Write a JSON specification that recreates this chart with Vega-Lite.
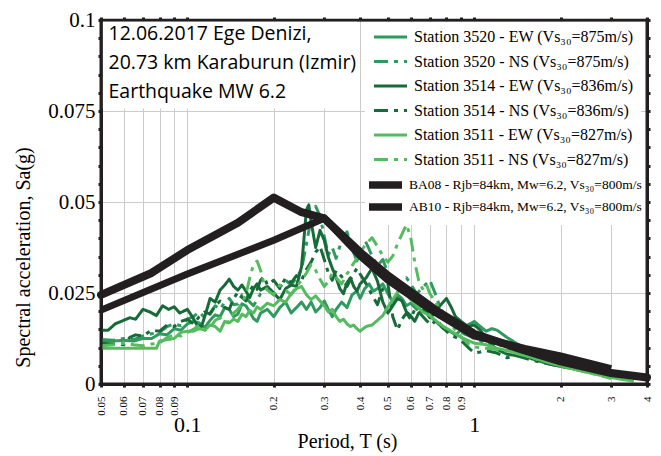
{
  "$schema": "https://vega.github.io/schema/vega-lite/v6.json",
  "width": 546,
  "height": 364,
  "autosize": {"type": "none"},
  "padding": {"left": 101, "top": 20, "right": 14, "bottom": 72},
  "background": "white",
  "datasets": {
    "stations": [
      {"s":"3520 EW","T":0.05,"Sa":0.0118},{"s":"3520 EW","T":0.055,"Sa":0.0118},{"s":"3520 EW","T":0.06,"Sa":0.012},{"s":"3520 EW","T":0.065,"Sa":0.0118},{"s":"3520 EW","T":0.07,"Sa":0.0125},{"s":"3520 EW","T":0.075,"Sa":0.0125},{"s":"3520 EW","T":0.08,"Sa":0.0138},{"s":"3520 EW","T":0.085,"Sa":0.0135},{"s":"3520 EW","T":0.09,"Sa":0.0152},{"s":"3520 EW","T":0.095,"Sa":0.0148},{"s":"3520 EW","T":0.1,"Sa":0.0165},{"s":"3520 EW","T":0.105,"Sa":0.0172},{"s":"3520 EW","T":0.11,"Sa":0.0168},{"s":"3520 EW","T":0.115,"Sa":0.0155},{"s":"3520 EW","T":0.12,"Sa":0.0175},{"s":"3520 EW","T":0.125,"Sa":0.019},{"s":"3520 EW","T":0.13,"Sa":0.0185},{"s":"3520 EW","T":0.135,"Sa":0.021},{"s":"3520 EW","T":0.14,"Sa":0.0205},{"s":"3520 EW","T":0.145,"Sa":0.0185},{"s":"3520 EW","T":0.15,"Sa":0.0192},{"s":"3520 EW","T":0.155,"Sa":0.022},{"s":"3520 EW","T":0.16,"Sa":0.0215},{"s":"3520 EW","T":0.165,"Sa":0.0198},{"s":"3520 EW","T":0.17,"Sa":0.018},{"s":"3520 EW","T":0.175,"Sa":0.0172},{"s":"3520 EW","T":0.18,"Sa":0.0195},{"s":"3520 EW","T":0.19,"Sa":0.0205},{"s":"3520 EW","T":0.2,"Sa":0.0185},{"s":"3520 EW","T":0.21,"Sa":0.021},{"s":"3520 EW","T":0.22,"Sa":0.0225},{"s":"3520 EW","T":0.23,"Sa":0.0195},{"s":"3520 EW","T":0.24,"Sa":0.021},{"s":"3520 EW","T":0.25,"Sa":0.0225},{"s":"3520 EW","T":0.26,"Sa":0.0205},{"s":"3520 EW","T":0.27,"Sa":0.0225},{"s":"3520 EW","T":0.28,"Sa":0.0198},{"s":"3520 EW","T":0.29,"Sa":0.021},{"s":"3520 EW","T":0.3,"Sa":0.0228},{"s":"3520 EW","T":0.31,"Sa":0.0205},{"s":"3520 EW","T":0.32,"Sa":0.0185},{"s":"3520 EW","T":0.33,"Sa":0.0205},{"s":"3520 EW","T":0.345,"Sa":0.0225},{"s":"3520 EW","T":0.36,"Sa":0.021},{"s":"3520 EW","T":0.375,"Sa":0.0245},{"s":"3520 EW","T":0.39,"Sa":0.0255},{"s":"3520 EW","T":0.4,"Sa":0.0235},{"s":"3520 EW","T":0.415,"Sa":0.0262},{"s":"3520 EW","T":0.43,"Sa":0.0275},{"s":"3520 EW","T":0.445,"Sa":0.0255},{"s":"3520 EW","T":0.46,"Sa":0.0262},{"s":"3520 EW","T":0.48,"Sa":0.0275},{"s":"3520 EW","T":0.5,"Sa":0.0248},{"s":"3520 EW","T":0.52,"Sa":0.0225},{"s":"3520 EW","T":0.54,"Sa":0.0245},{"s":"3520 EW","T":0.56,"Sa":0.0235},{"s":"3520 EW","T":0.58,"Sa":0.0215},{"s":"3520 EW","T":0.6,"Sa":0.0222},{"s":"3520 EW","T":0.63,"Sa":0.0205},{"s":"3520 EW","T":0.66,"Sa":0.0215},{"s":"3520 EW","T":0.69,"Sa":0.0192},{"s":"3520 EW","T":0.72,"Sa":0.0178},{"s":"3520 EW","T":0.75,"Sa":0.0165},{"s":"3520 EW","T":0.78,"Sa":0.0152},{"s":"3520 EW","T":0.82,"Sa":0.0145},{"s":"3520 EW","T":0.86,"Sa":0.0135},{"s":"3520 EW","T":0.9,"Sa":0.0148},{"s":"3520 EW","T":0.95,"Sa":0.0162},{"s":"3520 EW","T":1.0,"Sa":0.0172},{"s":"3520 EW","T":1.05,"Sa":0.0158},{"s":"3520 EW","T":1.1,"Sa":0.0145},{"s":"3520 EW","T":1.15,"Sa":0.0152},{"s":"3520 EW","T":1.2,"Sa":0.0148},{"s":"3520 EW","T":1.3,"Sa":0.0128},{"s":"3520 EW","T":1.4,"Sa":0.0112},{"s":"3520 EW","T":1.5,"Sa":0.0098},{"s":"3520 EW","T":1.65,"Sa":0.0088},{"s":"3520 EW","T":1.8,"Sa":0.0075},{"s":"3520 EW","T":2.0,"Sa":0.0062},{"s":"3520 EW","T":2.2,"Sa":0.0052},{"s":"3520 EW","T":2.5,"Sa":0.004},{"s":"3520 EW","T":2.8,"Sa":0.0032},{"s":"3520 EW","T":3.0,"Sa":0.0028},{"s":"3520 EW","T":3.3,"Sa":0.0022},{"s":"3520 EW","T":3.6,"Sa":0.0018},

      {"s":"3520 NS","T":0.05,"Sa":0.0122},{"s":"3520 NS","T":0.055,"Sa":0.012},{"s":"3520 NS","T":0.06,"Sa":0.0125},{"s":"3520 NS","T":0.065,"Sa":0.0122},{"s":"3520 NS","T":0.07,"Sa":0.0132},{"s":"3520 NS","T":0.075,"Sa":0.0138},{"s":"3520 NS","T":0.08,"Sa":0.0142},{"s":"3520 NS","T":0.085,"Sa":0.0158},{"s":"3520 NS","T":0.09,"Sa":0.0165},{"s":"3520 NS","T":0.095,"Sa":0.016},{"s":"3520 NS","T":0.1,"Sa":0.0178},{"s":"3520 NS","T":0.105,"Sa":0.0185},{"s":"3520 NS","T":0.11,"Sa":0.0198},{"s":"3520 NS","T":0.115,"Sa":0.0182},{"s":"3520 NS","T":0.12,"Sa":0.0195},{"s":"3520 NS","T":0.125,"Sa":0.0215},{"s":"3520 NS","T":0.13,"Sa":0.0205},{"s":"3520 NS","T":0.135,"Sa":0.0225},{"s":"3520 NS","T":0.14,"Sa":0.0235},{"s":"3520 NS","T":0.145,"Sa":0.0218},{"s":"3520 NS","T":0.15,"Sa":0.022},{"s":"3520 NS","T":0.155,"Sa":0.0245},{"s":"3520 NS","T":0.16,"Sa":0.0238},{"s":"3520 NS","T":0.165,"Sa":0.0225},{"s":"3520 NS","T":0.17,"Sa":0.0215},{"s":"3520 NS","T":0.18,"Sa":0.0248},{"s":"3520 NS","T":0.19,"Sa":0.0262},{"s":"3520 NS","T":0.2,"Sa":0.0245},{"s":"3520 NS","T":0.21,"Sa":0.0265},{"s":"3520 NS","T":0.22,"Sa":0.0285},{"s":"3520 NS","T":0.23,"Sa":0.0272},{"s":"3520 NS","T":0.24,"Sa":0.0292},{"s":"3520 NS","T":0.25,"Sa":0.0315},{"s":"3520 NS","T":0.26,"Sa":0.0385},{"s":"3520 NS","T":0.27,"Sa":0.0455},{"s":"3520 NS","T":0.28,"Sa":0.0488},{"s":"3520 NS","T":0.29,"Sa":0.0462},{"s":"3520 NS","T":0.3,"Sa":0.0405},{"s":"3520 NS","T":0.31,"Sa":0.0355},{"s":"3520 NS","T":0.32,"Sa":0.0375},{"s":"3520 NS","T":0.33,"Sa":0.0345},{"s":"3520 NS","T":0.345,"Sa":0.0395},{"s":"3520 NS","T":0.36,"Sa":0.0418},{"s":"3520 NS","T":0.375,"Sa":0.0372},{"s":"3520 NS","T":0.39,"Sa":0.0338},{"s":"3520 NS","T":0.4,"Sa":0.0368},{"s":"3520 NS","T":0.42,"Sa":0.0388},{"s":"3520 NS","T":0.44,"Sa":0.0352},{"s":"3520 NS","T":0.46,"Sa":0.0325},{"s":"3520 NS","T":0.48,"Sa":0.0342},{"s":"3520 NS","T":0.5,"Sa":0.0305},{"s":"3520 NS","T":0.52,"Sa":0.0285},{"s":"3520 NS","T":0.55,"Sa":0.0265},{"s":"3520 NS","T":0.58,"Sa":0.0292},{"s":"3520 NS","T":0.6,"Sa":0.0275},{"s":"3520 NS","T":0.63,"Sa":0.0248},{"s":"3520 NS","T":0.66,"Sa":0.0265},{"s":"3520 NS","T":0.7,"Sa":0.0285},{"s":"3520 NS","T":0.73,"Sa":0.025},{"s":"3520 NS","T":0.76,"Sa":0.021},{"s":"3520 NS","T":0.8,"Sa":0.0182},{"s":"3520 NS","T":0.84,"Sa":0.0165},{"s":"3520 NS","T":0.88,"Sa":0.0148},{"s":"3520 NS","T":0.92,"Sa":0.0138},{"s":"3520 NS","T":0.96,"Sa":0.0132},{"s":"3520 NS","T":1.0,"Sa":0.0125},{"s":"3520 NS","T":1.05,"Sa":0.0118},{"s":"3520 NS","T":1.1,"Sa":0.0108},{"s":"3520 NS","T":1.2,"Sa":0.0112},{"s":"3520 NS","T":1.3,"Sa":0.0095},{"s":"3520 NS","T":1.45,"Sa":0.0085},{"s":"3520 NS","T":1.6,"Sa":0.0078},{"s":"3520 NS","T":1.8,"Sa":0.0065},{"s":"3520 NS","T":2.0,"Sa":0.0055},{"s":"3520 NS","T":2.3,"Sa":0.0045},{"s":"3520 NS","T":2.6,"Sa":0.0035},{"s":"3520 NS","T":3.0,"Sa":0.0025},{"s":"3520 NS","T":3.3,"Sa":0.002},

      {"s":"3514 EW","T":0.05,"Sa":0.0148},{"s":"3514 EW","T":0.053,"Sa":0.0148},{"s":"3514 EW","T":0.056,"Sa":0.0165},{"s":"3514 EW","T":0.06,"Sa":0.0175},{"s":"3514 EW","T":0.063,"Sa":0.0182},{"s":"3514 EW","T":0.066,"Sa":0.0178},{"s":"3514 EW","T":0.07,"Sa":0.0205},{"s":"3514 EW","T":0.074,"Sa":0.0198},{"s":"3514 EW","T":0.078,"Sa":0.0188},{"s":"3514 EW","T":0.082,"Sa":0.0215},{"s":"3514 EW","T":0.086,"Sa":0.0205},{"s":"3514 EW","T":0.09,"Sa":0.0212},{"s":"3514 EW","T":0.094,"Sa":0.0195},{"s":"3514 EW","T":0.1,"Sa":0.0205},{"s":"3514 EW","T":0.104,"Sa":0.0185},{"s":"3514 EW","T":0.108,"Sa":0.0162},{"s":"3514 EW","T":0.112,"Sa":0.0158},{"s":"3514 EW","T":0.116,"Sa":0.0195},{"s":"3514 EW","T":0.12,"Sa":0.0235},{"s":"3514 EW","T":0.125,"Sa":0.0225},{"s":"3514 EW","T":0.13,"Sa":0.0258},{"s":"3514 EW","T":0.135,"Sa":0.0272},{"s":"3514 EW","T":0.14,"Sa":0.0288},{"s":"3514 EW","T":0.145,"Sa":0.0268},{"s":"3514 EW","T":0.15,"Sa":0.0258},{"s":"3514 EW","T":0.155,"Sa":0.0272},{"s":"3514 EW","T":0.16,"Sa":0.0255},{"s":"3514 EW","T":0.165,"Sa":0.0238},{"s":"3514 EW","T":0.17,"Sa":0.0262},{"s":"3514 EW","T":0.175,"Sa":0.0275},{"s":"3514 EW","T":0.18,"Sa":0.0258},{"s":"3514 EW","T":0.19,"Sa":0.0268},{"s":"3514 EW","T":0.2,"Sa":0.025},{"s":"3514 EW","T":0.21,"Sa":0.0232},{"s":"3514 EW","T":0.22,"Sa":0.0262},{"s":"3514 EW","T":0.23,"Sa":0.0272},{"s":"3514 EW","T":0.24,"Sa":0.0268},{"s":"3514 EW","T":0.25,"Sa":0.0322},{"s":"3514 EW","T":0.26,"Sa":0.0478},{"s":"3514 EW","T":0.265,"Sa":0.0492},{"s":"3514 EW","T":0.27,"Sa":0.0445},{"s":"3514 EW","T":0.28,"Sa":0.0375},{"s":"3514 EW","T":0.29,"Sa":0.0422},{"s":"3514 EW","T":0.3,"Sa":0.0395},{"s":"3514 EW","T":0.31,"Sa":0.0348},{"s":"3514 EW","T":0.32,"Sa":0.0318},{"s":"3514 EW","T":0.33,"Sa":0.0292},{"s":"3514 EW","T":0.34,"Sa":0.0262},{"s":"3514 EW","T":0.35,"Sa":0.0248},{"s":"3514 EW","T":0.36,"Sa":0.0278},{"s":"3514 EW","T":0.37,"Sa":0.0292},{"s":"3514 EW","T":0.38,"Sa":0.0268},{"s":"3514 EW","T":0.39,"Sa":0.0255},{"s":"3514 EW","T":0.4,"Sa":0.0275},{"s":"3514 EW","T":0.42,"Sa":0.0292},{"s":"3514 EW","T":0.44,"Sa":0.0318},{"s":"3514 EW","T":0.46,"Sa":0.0282},{"s":"3514 EW","T":0.48,"Sa":0.0225},{"s":"3514 EW","T":0.5,"Sa":0.0195},{"s":"3514 EW","T":0.52,"Sa":0.0215},{"s":"3514 EW","T":0.54,"Sa":0.0235},{"s":"3514 EW","T":0.56,"Sa":0.0228},{"s":"3514 EW","T":0.58,"Sa":0.0198},{"s":"3514 EW","T":0.6,"Sa":0.0188},{"s":"3514 EW","T":0.62,"Sa":0.0172},{"s":"3514 EW","T":0.64,"Sa":0.0195},{"s":"3514 EW","T":0.67,"Sa":0.0205},{"s":"3514 EW","T":0.7,"Sa":0.0182},{"s":"3514 EW","T":0.73,"Sa":0.0195},{"s":"3514 EW","T":0.76,"Sa":0.0215},{"s":"3514 EW","T":0.8,"Sa":0.0235},{"s":"3514 EW","T":0.83,"Sa":0.0212},{"s":"3514 EW","T":0.86,"Sa":0.0185},{"s":"3514 EW","T":0.9,"Sa":0.0172},{"s":"3514 EW","T":0.95,"Sa":0.0158},{"s":"3514 EW","T":1.0,"Sa":0.0162},{"s":"3514 EW","T":1.05,"Sa":0.0148},{"s":"3514 EW","T":1.1,"Sa":0.0125},{"s":"3514 EW","T":1.15,"Sa":0.0108},{"s":"3514 EW","T":1.2,"Sa":0.0095},{"s":"3514 EW","T":1.3,"Sa":0.0082},{"s":"3514 EW","T":1.4,"Sa":0.0078},{"s":"3514 EW","T":1.55,"Sa":0.0072},{"s":"3514 EW","T":1.7,"Sa":0.0062},{"s":"3514 EW","T":1.9,"Sa":0.0052},{"s":"3514 EW","T":2.1,"Sa":0.0045},{"s":"3514 EW","T":2.4,"Sa":0.0038},{"s":"3514 EW","T":2.7,"Sa":0.003},{"s":"3514 EW","T":3.0,"Sa":0.0022},{"s":"3514 EW","T":3.3,"Sa":0.0018},

      {"s":"3514 NS","T":0.05,"Sa":0.0112},{"s":"3514 NS","T":0.055,"Sa":0.011},{"s":"3514 NS","T":0.06,"Sa":0.0108},{"s":"3514 NS","T":0.063,"Sa":0.0128},{"s":"3514 NS","T":0.066,"Sa":0.0135},{"s":"3514 NS","T":0.07,"Sa":0.0132},{"s":"3514 NS","T":0.075,"Sa":0.0148},{"s":"3514 NS","T":0.08,"Sa":0.0145},{"s":"3514 NS","T":0.085,"Sa":0.0162},{"s":"3514 NS","T":0.09,"Sa":0.0158},{"s":"3514 NS","T":0.095,"Sa":0.0172},{"s":"3514 NS","T":0.1,"Sa":0.0178},{"s":"3514 NS","T":0.105,"Sa":0.0165},{"s":"3514 NS","T":0.11,"Sa":0.0185},{"s":"3514 NS","T":0.115,"Sa":0.0198},{"s":"3514 NS","T":0.12,"Sa":0.0192},{"s":"3514 NS","T":0.125,"Sa":0.0215},{"s":"3514 NS","T":0.13,"Sa":0.0228},{"s":"3514 NS","T":0.135,"Sa":0.021},{"s":"3514 NS","T":0.14,"Sa":0.0205},{"s":"3514 NS","T":0.145,"Sa":0.0235},{"s":"3514 NS","T":0.15,"Sa":0.0252},{"s":"3514 NS","T":0.155,"Sa":0.0238},{"s":"3514 NS","T":0.16,"Sa":0.0228},{"s":"3514 NS","T":0.165,"Sa":0.0255},{"s":"3514 NS","T":0.17,"Sa":0.0272},{"s":"3514 NS","T":0.175,"Sa":0.026},{"s":"3514 NS","T":0.18,"Sa":0.0285},{"s":"3514 NS","T":0.185,"Sa":0.0295},{"s":"3514 NS","T":0.19,"Sa":0.0272},{"s":"3514 NS","T":0.2,"Sa":0.0285},{"s":"3514 NS","T":0.21,"Sa":0.0262},{"s":"3514 NS","T":0.22,"Sa":0.0292},{"s":"3514 NS","T":0.23,"Sa":0.0278},{"s":"3514 NS","T":0.24,"Sa":0.0298},{"s":"3514 NS","T":0.25,"Sa":0.0285},{"s":"3514 NS","T":0.26,"Sa":0.0315},{"s":"3514 NS","T":0.27,"Sa":0.0335},{"s":"3514 NS","T":0.28,"Sa":0.0362},{"s":"3514 NS","T":0.29,"Sa":0.0378},{"s":"3514 NS","T":0.3,"Sa":0.0342},{"s":"3514 NS","T":0.31,"Sa":0.0305},{"s":"3514 NS","T":0.32,"Sa":0.0285},{"s":"3514 NS","T":0.33,"Sa":0.0312},{"s":"3514 NS","T":0.345,"Sa":0.0295},{"s":"3514 NS","T":0.36,"Sa":0.0268},{"s":"3514 NS","T":0.375,"Sa":0.0295},{"s":"3514 NS","T":0.39,"Sa":0.0318},{"s":"3514 NS","T":0.4,"Sa":0.0302},{"s":"3514 NS","T":0.42,"Sa":0.0275},{"s":"3514 NS","T":0.44,"Sa":0.0245},{"s":"3514 NS","T":0.46,"Sa":0.0218},{"s":"3514 NS","T":0.48,"Sa":0.0262},{"s":"3514 NS","T":0.5,"Sa":0.0275},{"s":"3514 NS","T":0.52,"Sa":0.0185},{"s":"3514 NS","T":0.54,"Sa":0.0148},{"s":"3514 NS","T":0.56,"Sa":0.0178},{"s":"3514 NS","T":0.58,"Sa":0.0195},{"s":"3514 NS","T":0.6,"Sa":0.0178},{"s":"3514 NS","T":0.62,"Sa":0.0205},{"s":"3514 NS","T":0.65,"Sa":0.0192},{"s":"3514 NS","T":0.68,"Sa":0.0175},{"s":"3514 NS","T":0.71,"Sa":0.0162},{"s":"3514 NS","T":0.74,"Sa":0.0178},{"s":"3514 NS","T":0.77,"Sa":0.0158},{"s":"3514 NS","T":0.8,"Sa":0.0145},{"s":"3514 NS","T":0.84,"Sa":0.0132},{"s":"3514 NS","T":0.88,"Sa":0.0125},{"s":"3514 NS","T":0.92,"Sa":0.0112},{"s":"3514 NS","T":0.96,"Sa":0.0098},{"s":"3514 NS","T":1.0,"Sa":0.0085},{"s":"3514 NS","T":1.05,"Sa":0.0088},{"s":"3514 NS","T":1.1,"Sa":0.0092},{"s":"3514 NS","T":1.2,"Sa":0.0085},{"s":"3514 NS","T":1.3,"Sa":0.0072},{"s":"3514 NS","T":1.4,"Sa":0.0078},{"s":"3514 NS","T":1.55,"Sa":0.0068},{"s":"3514 NS","T":1.7,"Sa":0.006},{"s":"3514 NS","T":1.9,"Sa":0.0052},{"s":"3514 NS","T":2.1,"Sa":0.0045},{"s":"3514 NS","T":2.4,"Sa":0.0036},{"s":"3514 NS","T":2.7,"Sa":0.0028},{"s":"3514 NS","T":3.0,"Sa":0.002},

      {"s":"3511 EW","T":0.05,"Sa":0.0098},{"s":"3511 EW","T":0.06,"Sa":0.0098},{"s":"3511 EW","T":0.07,"Sa":0.0098},{"s":"3511 EW","T":0.078,"Sa":0.0098},{"s":"3511 EW","T":0.08,"Sa":0.0118},{"s":"3511 EW","T":0.085,"Sa":0.0122},{"s":"3511 EW","T":0.09,"Sa":0.0125},{"s":"3511 EW","T":0.095,"Sa":0.0142},{"s":"3511 EW","T":0.1,"Sa":0.0145},{"s":"3511 EW","T":0.105,"Sa":0.0145},{"s":"3511 EW","T":0.11,"Sa":0.0152},{"s":"3511 EW","T":0.115,"Sa":0.0148},{"s":"3511 EW","T":0.12,"Sa":0.0162},{"s":"3511 EW","T":0.125,"Sa":0.0158},{"s":"3511 EW","T":0.13,"Sa":0.0145},{"s":"3511 EW","T":0.135,"Sa":0.0172},{"s":"3511 EW","T":0.14,"Sa":0.0168},{"s":"3511 EW","T":0.145,"Sa":0.0178},{"s":"3511 EW","T":0.15,"Sa":0.0172},{"s":"3511 EW","T":0.155,"Sa":0.0192},{"s":"3511 EW","T":0.16,"Sa":0.0185},{"s":"3511 EW","T":0.165,"Sa":0.0202},{"s":"3511 EW","T":0.17,"Sa":0.0195},{"s":"3511 EW","T":0.175,"Sa":0.0212},{"s":"3511 EW","T":0.18,"Sa":0.0205},{"s":"3511 EW","T":0.19,"Sa":0.0222},{"s":"3511 EW","T":0.2,"Sa":0.0215},{"s":"3511 EW","T":0.21,"Sa":0.0232},{"s":"3511 EW","T":0.22,"Sa":0.0225},{"s":"3511 EW","T":0.23,"Sa":0.0248},{"s":"3511 EW","T":0.24,"Sa":0.0262},{"s":"3511 EW","T":0.25,"Sa":0.0268},{"s":"3511 EW","T":0.26,"Sa":0.0245},{"s":"3511 EW","T":0.27,"Sa":0.0232},{"s":"3511 EW","T":0.28,"Sa":0.0242},{"s":"3511 EW","T":0.29,"Sa":0.0228},{"s":"3511 EW","T":0.3,"Sa":0.0215},{"s":"3511 EW","T":0.31,"Sa":0.0198},{"s":"3511 EW","T":0.32,"Sa":0.0205},{"s":"3511 EW","T":0.33,"Sa":0.0185},{"s":"3511 EW","T":0.34,"Sa":0.0172},{"s":"3511 EW","T":0.35,"Sa":0.0178},{"s":"3511 EW","T":0.36,"Sa":0.0165},{"s":"3511 EW","T":0.37,"Sa":0.0158},{"s":"3511 EW","T":0.38,"Sa":0.0162},{"s":"3511 EW","T":0.39,"Sa":0.0152},{"s":"3511 EW","T":0.4,"Sa":0.0145},{"s":"3511 EW","T":0.41,"Sa":0.0152},{"s":"3511 EW","T":0.42,"Sa":0.0158},{"s":"3511 EW","T":0.44,"Sa":0.0162},{"s":"3511 EW","T":0.46,"Sa":0.0175},{"s":"3511 EW","T":0.48,"Sa":0.0188},{"s":"3511 EW","T":0.5,"Sa":0.0212},{"s":"3511 EW","T":0.52,"Sa":0.0232},{"s":"3511 EW","T":0.54,"Sa":0.0252},{"s":"3511 EW","T":0.56,"Sa":0.0268},{"s":"3511 EW","T":0.58,"Sa":0.0248},{"s":"3511 EW","T":0.6,"Sa":0.0232},{"s":"3511 EW","T":0.63,"Sa":0.0215},{"s":"3511 EW","T":0.66,"Sa":0.0198},{"s":"3511 EW","T":0.7,"Sa":0.0188},{"s":"3511 EW","T":0.74,"Sa":0.0172},{"s":"3511 EW","T":0.78,"Sa":0.0158},{"s":"3511 EW","T":0.82,"Sa":0.0148},{"s":"3511 EW","T":0.86,"Sa":0.0138},{"s":"3511 EW","T":0.9,"Sa":0.0128},{"s":"3511 EW","T":0.95,"Sa":0.012},{"s":"3511 EW","T":1.0,"Sa":0.0112},{"s":"3511 EW","T":1.1,"Sa":0.0108},{"s":"3511 EW","T":1.2,"Sa":0.0098},{"s":"3511 EW","T":1.3,"Sa":0.0092},{"s":"3511 EW","T":1.45,"Sa":0.0082},{"s":"3511 EW","T":1.6,"Sa":0.0072},{"s":"3511 EW","T":1.8,"Sa":0.006},{"s":"3511 EW","T":2.0,"Sa":0.005},{"s":"3511 EW","T":2.3,"Sa":0.0038},{"s":"3511 EW","T":2.6,"Sa":0.0028},{"s":"3511 EW","T":3.0,"Sa":0.0018},{"s":"3511 EW","T":3.3,"Sa":0.0012},{"s":"3511 EW","T":3.6,"Sa":0.0008},

      {"s":"3511 NS","T":0.05,"Sa":0.0105},{"s":"3511 NS","T":0.055,"Sa":0.0108},{"s":"3511 NS","T":0.06,"Sa":0.0112},{"s":"3511 NS","T":0.065,"Sa":0.0108},{"s":"3511 NS","T":0.07,"Sa":0.0105},{"s":"3511 NS","T":0.075,"Sa":0.011},{"s":"3511 NS","T":0.08,"Sa":0.0112},{"s":"3511 NS","T":0.085,"Sa":0.0128},{"s":"3511 NS","T":0.09,"Sa":0.0135},{"s":"3511 NS","T":0.095,"Sa":0.0132},{"s":"3511 NS","T":0.1,"Sa":0.0142},{"s":"3511 NS","T":0.105,"Sa":0.015},{"s":"3511 NS","T":0.11,"Sa":0.0162},{"s":"3511 NS","T":0.115,"Sa":0.0148},{"s":"3511 NS","T":0.12,"Sa":0.0155},{"s":"3511 NS","T":0.125,"Sa":0.0175},{"s":"3511 NS","T":0.13,"Sa":0.0182},{"s":"3511 NS","T":0.135,"Sa":0.0168},{"s":"3511 NS","T":0.14,"Sa":0.0172},{"s":"3511 NS","T":0.145,"Sa":0.0195},{"s":"3511 NS","T":0.15,"Sa":0.0205},{"s":"3511 NS","T":0.155,"Sa":0.0222},{"s":"3511 NS","T":0.16,"Sa":0.0245},{"s":"3511 NS","T":0.165,"Sa":0.0292},{"s":"3511 NS","T":0.17,"Sa":0.0328},{"s":"3511 NS","T":0.175,"Sa":0.0338},{"s":"3511 NS","T":0.18,"Sa":0.0312},{"s":"3511 NS","T":0.185,"Sa":0.0275},{"s":"3511 NS","T":0.19,"Sa":0.0258},{"s":"3511 NS","T":0.2,"Sa":0.0245},{"s":"3511 NS","T":0.21,"Sa":0.0272},{"s":"3511 NS","T":0.22,"Sa":0.0258},{"s":"3511 NS","T":0.23,"Sa":0.0245},{"s":"3511 NS","T":0.24,"Sa":0.0268},{"s":"3511 NS","T":0.25,"Sa":0.0285},{"s":"3511 NS","T":0.26,"Sa":0.0305},{"s":"3511 NS","T":0.27,"Sa":0.0328},{"s":"3511 NS","T":0.28,"Sa":0.0312},{"s":"3511 NS","T":0.29,"Sa":0.0288},{"s":"3511 NS","T":0.3,"Sa":0.0268},{"s":"3511 NS","T":0.31,"Sa":0.0282},{"s":"3511 NS","T":0.32,"Sa":0.0305},{"s":"3511 NS","T":0.33,"Sa":0.0292},{"s":"3511 NS","T":0.345,"Sa":0.0275},{"s":"3511 NS","T":0.36,"Sa":0.0302},{"s":"3511 NS","T":0.375,"Sa":0.0325},{"s":"3511 NS","T":0.39,"Sa":0.0345},{"s":"3511 NS","T":0.4,"Sa":0.0362},{"s":"3511 NS","T":0.42,"Sa":0.0385},{"s":"3511 NS","T":0.44,"Sa":0.0402},{"s":"3511 NS","T":0.46,"Sa":0.0378},{"s":"3511 NS","T":0.48,"Sa":0.0352},{"s":"3511 NS","T":0.5,"Sa":0.0335},{"s":"3511 NS","T":0.52,"Sa":0.0352},{"s":"3511 NS","T":0.54,"Sa":0.0385},{"s":"3511 NS","T":0.56,"Sa":0.0412},{"s":"3511 NS","T":0.58,"Sa":0.0438},{"s":"3511 NS","T":0.6,"Sa":0.0405},{"s":"3511 NS","T":0.62,"Sa":0.0335},{"s":"3511 NS","T":0.64,"Sa":0.0285},{"s":"3511 NS","T":0.66,"Sa":0.0262},{"s":"3511 NS","T":0.68,"Sa":0.0275},{"s":"3511 NS","T":0.7,"Sa":0.0248},{"s":"3511 NS","T":0.73,"Sa":0.0228},{"s":"3511 NS","T":0.76,"Sa":0.0205},{"s":"3511 NS","T":0.8,"Sa":0.0178},{"s":"3511 NS","T":0.84,"Sa":0.0158},{"s":"3511 NS","T":0.88,"Sa":0.0138},{"s":"3511 NS","T":0.92,"Sa":0.0122},{"s":"3511 NS","T":0.96,"Sa":0.0108},{"s":"3511 NS","T":1.0,"Sa":0.0102},{"s":"3511 NS","T":1.1,"Sa":0.0098},{"s":"3511 NS","T":1.2,"Sa":0.0095},{"s":"3511 NS","T":1.35,"Sa":0.0088},{"s":"3511 NS","T":1.5,"Sa":0.0078},{"s":"3511 NS","T":1.7,"Sa":0.0065},{"s":"3511 NS","T":1.9,"Sa":0.0055},{"s":"3511 NS","T":2.1,"Sa":0.0045},{"s":"3511 NS","T":2.4,"Sa":0.0035},{"s":"3511 NS","T":2.7,"Sa":0.0025},{"s":"3511 NS","T":3.0,"Sa":0.0015}
    ],
    "models": [
      {"s":"BA08","T":0.05,"Sa":0.0245},{"s":"BA08","T":0.075,"Sa":0.0305},{"s":"BA08","T":0.1,"Sa":0.0368},{"s":"BA08","T":0.15,"Sa":0.0443},{"s":"BA08","T":0.2,"Sa":0.0512},{"s":"BA08","T":0.25,"Sa":0.0472},{"s":"BA08","T":0.3,"Sa":0.0455},{"s":"BA08","T":0.4,"Sa":0.0362},{"s":"BA08","T":0.5,"Sa":0.0298},{"s":"BA08","T":0.75,"Sa":0.0198},{"s":"BA08","T":1.0,"Sa":0.0138},{"s":"BA08","T":1.5,"Sa":0.0092},{"s":"BA08","T":2.0,"Sa":0.0062},{"s":"BA08","T":3.0,"Sa":0.003},{"s":"BA08","T":4.0,"Sa":0.0018},
      {"s":"AB10","T":0.05,"Sa":0.0203},{"s":"AB10","T":0.1,"Sa":0.0302},{"s":"AB10","T":0.2,"Sa":0.0395},{"s":"AB10","T":0.3,"Sa":0.0455},{"s":"AB10","T":0.4,"Sa":0.0352},{"s":"AB10","T":0.5,"Sa":0.0285},{"s":"AB10","T":0.7,"Sa":0.0205},{"s":"AB10","T":1.0,"Sa":0.0132},{"s":"AB10","T":1.5,"Sa":0.0098},{"s":"AB10","T":2.0,"Sa":0.0077},{"s":"AB10","T":3.0,"Sa":0.0042}
    ]
  },
  "layer": [
    {
      "data": {"values": [{}]},
      "mark": {"type": "rect", "color": "white"},
      "encoding": {
        "x": {"datum": 0.0507, "type": "quantitative", "axis": null},
        "x2": {"datum": 0.39},
        "y": {"datum": 0.0757, "type": "quantitative", "axis": null},
        "y2": {"datum": 0.0995}
      }
    },
    {
      "data": {"name": "stations"},
      "mark": {"type": "line", "strokeJoin": "round", "strokeWidth": 3},
      "encoding": {
        "x": {
          "field": "T", "type": "quantitative",
          "scale": {"type": "log", "domain": [0.05, 4], "nice": false},
          "axis": {
            "orient": "bottom", "title": null,
            "values": [0.05,0.06,0.07,0.08,0.09,0.1,0.2,0.3,0.4,0.5,0.6,0.7,0.8,0.9,1,2,3,4],
            "labelExpr": "datum.value == 0.1 || datum.value == 1 ? '' : toString(datum.value)",
            "labelAngle": -90, "labelFontSize": 11, "labelFont": "Liberation Serif", "labelColor": "black",
            "labelPadding": 12, "labelFlush": false, "labelOverlap": false, "labelBound": false,
            "ticks": false, "domain": false,
            "grid": true, "gridColor": "#cccccc", "gridWidth": 1
          }
        },
        "y": {
          "field": "Sa", "type": "quantitative",
          "scale": {"domain": [0, 0.1], "nice": false},
          "axis": {
            "orient": "left",
            "values": [0, 0.025, 0.05, 0.075, 0.1],
            "labelExpr": "toString(datum.value)",
            "labelFont": "Liberation Serif", "labelFontSize": 21, "labelColor": "black",
            "labelPadding": 6, "labelFlush": false, "labelOverlap": false, "labelBound": false,
            "ticks": false, "domain": false,
            "grid": true, "gridColor": "#cccccc", "gridWidth": 1,
            "title": "Spectral acceleration, Sa(g)",
            "titleFont": "Liberation Serif", "titleFontSize": 20, "titleFontWeight": "normal", "titleColor": "black",
            "titleY": 237, "titlePadding": 14
          }
        },
        "color": {
          "field": "s", "type": "nominal",
          "scale": {"domain": ["3520 EW","3520 NS","3514 EW","3514 NS","3511 EW","3511 NS"],
                    "range": ["#2f9a5f","#2f9a5f","#176b38","#176b38","#55bb5f","#55bb5f"]},
          "legend": {
            "title": null, "orient": "top-right", "offset": 2, "padding": 7, "fillColor": "white",
            "labelFont": "Liberation Serif", "labelFontSize": 16, "labelColor": "black", "labelLimit": 400,
            "symbolType": "M-1,0H4.5", "symbolSize": 144, "symbolStrokeWidth": 3, "rowPadding": 8.5, "labelOffset": 26,
            "labelExpr": "datum.label == '3520 EW' ? 'Station 3520 - EW (Vs₃₀=875m/s)' : datum.label == '3520 NS' ? 'Station 3520 - NS (Vs₃₀=875m/s)' : datum.label == '3514 EW' ? 'Station 3514 - EW (Vs₃₀=836m/s)' : datum.label == '3514 NS' ? 'Station 3514 - NS (Vs₃₀=836m/s)' : datum.label == '3511 EW' ? 'Station 3511 - EW (Vs₃₀=827m/s)' : 'Station 3511 - NS (Vs₃₀=827m/s)'"
          }
        },
        "strokeDash": {
          "field": "s", "type": "nominal",
          "scale": {"domain": ["3520 EW","3520 NS","3514 EW","3514 NS","3511 EW","3511 NS"],
                    "range": [[1,0],[14,6,4,6],[1,0],[14,6,4,6],[1,0],[14,6,4,6]]}
        }
      }
    },
    {
      "data": {"name": "models"},
      "transform": [{"filter": "datum.s == 'BA08'"}],
      "mark": {"type": "line", "strokeCap": "round", "strokeJoin": "round", "strokeWidth": 8},
      "encoding": {
        "x": {
          "field": "T", "type": "quantitative",
          "axis": {
            "orient": "bottom",
            "values": [0.05,0.06,0.07,0.08,0.09,0.1,0.2,0.3,0.4,0.5,0.6,0.7,0.8,0.9,1,2,3,4],
            "labelExpr": "datum.value == 0.1 ? '0.1' : datum.value == 1 ? '1' : ''",
            "labelFont": "Liberation Serif", "labelFontSize": 22, "labelColor": "black",
            "labelPadding": 27, "labelFlush": false, "labelOverlap": false, "labelBound": false,
            "ticks": true, "tickSize": 3, "tickWidth": 3, "tickColor": "#1f1f1f",
            "domain": true, "domainColor": "#1f1f1f", "domainWidth": 3,
            "grid": false,
            "title": "Period, T (s)",
            "titleFont": "Liberation Serif", "titleFontSize": 20, "titleFontWeight": "normal", "titleColor": "black",
            "titleX": 246, "titleY": 47, "titleAlign": "center", "titleBaseline": "top"
          }
        },
        "y": {
          "field": "Sa", "type": "quantitative",
          "axis": {
            "orient": "left",
            "values": [0,0.005,0.01,0.015,0.02,0.025,0.03,0.035,0.04,0.045,0.05,0.055,0.06,0.065,0.07,0.075,0.08,0.085,0.09,0.095,0.1],
            "labels": false, "title": null,
            "ticks": true, "tickSize": 3, "tickWidth": 3, "tickColor": "#1f1f1f",
            "domain": true, "domainColor": "#1f1f1f", "domainWidth": 3,
            "grid": false
          }
        },
        "stroke": {
          "field": "s", "type": "nominal",
          "scale": {"domain": ["BA08", "AB10"], "range": ["#231f20", "#231f20"]},
          "legend": {
            "title": null, "orient": "top-right", "offset": 2, "padding": 3, "fillColor": "white",
            "labelFont": "Liberation Serif", "labelFontSize": 13.5, "labelColor": "black", "labelLimit": 400,
            "symbolType": "M-2,0H9", "symbolSize": 36, "symbolStrokeWidth": 7.5, "rowPadding": -10, "labelOffset": 27,
            "labelExpr": "datum.label == 'BA08' ? 'BA08 - Rjb=84km, Mw=6.2, Vs₃₀=800m/s' : 'AB10 - Rjb=84km, Mw=6.2, Vs₃₀=800m/s'"
          }
        }
      }
    },
    {
      "data": {"name": "models"},
      "transform": [{"filter": "datum.s == 'AB10'"}],
      "mark": {"type": "line", "strokeCap": "butt", "strokeJoin": "miter", "strokeWidth": 7},
      "encoding": {
        "x": {
          "field": "T", "type": "quantitative",
          "axis": {
            "orient": "top",
            "values": [0.05,0.06,0.07,0.08,0.09,0.1,0.2,0.3,0.4,0.5,0.6,0.7,0.8,0.9,1,2,3,4],
            "labels": false, "title": null,
            "ticks": true, "tickSize": 3, "tickWidth": 3, "tickColor": "#1f1f1f",
            "domain": true, "domainColor": "#1f1f1f", "domainWidth": 2,
            "grid": false
          }
        },
        "y": {
          "field": "Sa", "type": "quantitative",
          "axis": {
            "orient": "right",
            "values": [0,0.005,0.01,0.015,0.02,0.025,0.03,0.035,0.04,0.045,0.05,0.055,0.06,0.065,0.07,0.075,0.08,0.085,0.09,0.095,0.1],
            "labels": false, "title": null,
            "ticks": true, "tickSize": 3, "tickWidth": 3, "tickColor": "#1f1f1f",
            "domain": true, "domainColor": "#1f1f1f", "domainWidth": 3,
            "grid": false
          }
        },
        "stroke": {"field": "s", "type": "nominal"}
      }
    },
    {
      "data": {"values": [{}]},
      "mark": {
        "type": "text", "align": "left", "baseline": "alphabetic",
        "font": "Open Sans", "fontSize": 19.5, "lineHeight": 29, "color": "black",
        "text": ["12.06.2017 Ege Denizi,", "20.73 km Karaburun (Izmir)", "Earthquake MW 6.2"]
      },
      "encoding": {
        "x": {"datum": 0.0531, "type": "quantitative", "axis": null},
        "y": {"datum": 0.0945, "type": "quantitative", "axis": null}
      }
    },
    {
      "data": {"values": [{}]},
      "mark": {"type": "rule", "strokeWidth": 3, "strokeCap": "square"},
      "encoding": {
        "x": {"datum": 0.05, "type": "quantitative", "axis": null},
        "x2": {"datum": 4},
        "y": {"datum": 0, "type": "quantitative", "axis": null},
        "stroke": {"datum": "BA08", "type": "nominal", "legend": null}
      }
    },
    {
      "data": {"values": [{}]},
      "mark": {"type": "rule", "strokeWidth": 2.5, "strokeCap": "square"},
      "encoding": {
        "x": {"datum": 0.05, "type": "quantitative", "axis": null},
        "x2": {"datum": 4},
        "y": {"datum": 0.1, "type": "quantitative", "axis": null},
        "stroke": {"datum": "BA08", "type": "nominal", "legend": null}
      }
    },
    {
      "data": {"values": [{}]},
      "mark": {"type": "rule", "strokeWidth": 3, "strokeCap": "square"},
      "encoding": {
        "x": {"datum": 0.05, "type": "quantitative", "axis": null},
        "y": {"datum": 0, "type": "quantitative", "axis": null},
        "y2": {"datum": 0.1},
        "stroke": {"datum": "BA08", "type": "nominal", "legend": null}
      }
    },
    {
      "data": {"values": [{}]},
      "mark": {"type": "rule", "strokeWidth": 3, "strokeCap": "square"},
      "encoding": {
        "x": {"datum": 4, "type": "quantitative", "axis": null},
        "y": {"datum": 0, "type": "quantitative", "axis": null},
        "y2": {"datum": 0.1},
        "stroke": {"datum": "BA08", "type": "nominal", "legend": null}
      }
    }
  ],
  "resolve": {"axis": {"x": "independent", "y": "independent"}},
  "config": {
    "view": {"stroke": null},
    "font": "Liberation Serif",
    "legend": {"layout": {"top-right": {"direction": "vertical", "margin": 0}}}
  }
}
